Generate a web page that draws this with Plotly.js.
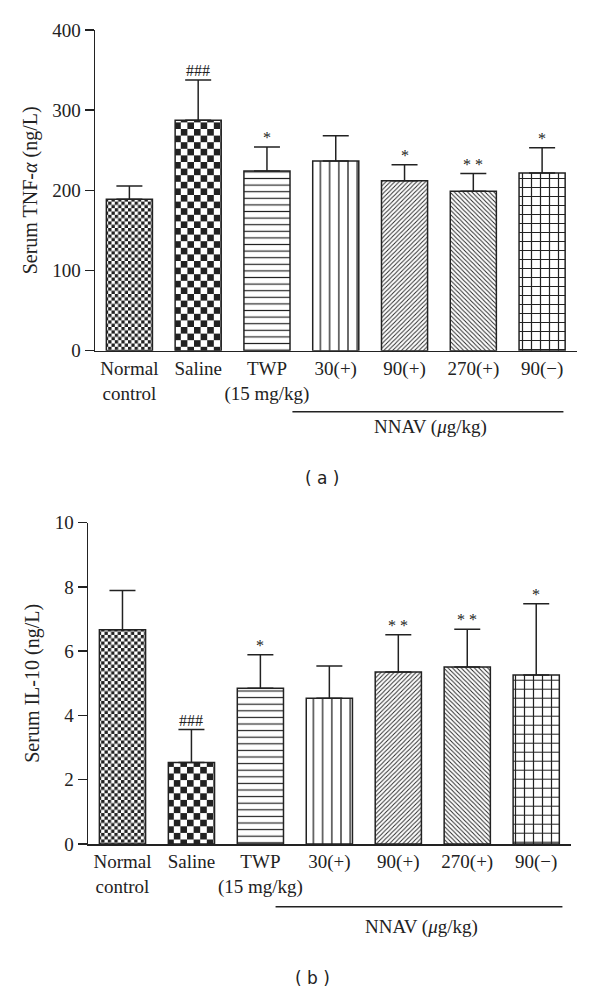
<!DOCTYPE html>
<html>
<head>
<meta charset="utf-8">
<script src="https://cdn.plot.ly/plotly-3.0.1.min.js"></script>
<style>html,body{margin:0;padding:0;background:#fff;}#chart{width:600px;height:994px;}</style>
</head>
<body>
<div id="chart"></div>
<script>
// ---- data ----
const categories = ['Normal<br>control', 'Saline', 'TWP<br>(15 mg/kg)', '30(+)', '90(+)', '270(+)', '90(−)'];
const tnfMean = [189, 287.5, 224, 236.5, 212, 199, 221.5];
const tnfSD   = [16.5, 50, 30, 31.5, 20, 22, 31.5];
const tnfSig  = ['', '###', '*', '', '*', '* *', '*'];
const il10Mean = [6.67, 2.54, 4.85, 4.54, 5.35, 5.51, 5.26];
const il10SD   = [1.22, 1.02, 1.04, 1.00, 1.16, 1.17, 2.22];
const il10Sig  = ['', '###', '*', '', '* *', '* *', '*'];
const tnfTicks = [0, 100, 200, 300, 400];
const il10Ticks = [0, 2, 4, 6, 8, 10];

// ---- styles ----
const INK = '#222';
const SERIF = 'Liberation Serif, Times New Roman, serif';
const patShapes = ['.', '.', '-', '|', '/', '\\', '+'];
const patSizes = [6.6, 13.2, 6.6, 9.2, 3.1, 3.1, 9];
const patSolid = [0.5, 0.5, 0.18, 0.14, 0.3, 0.3, 0.25];

function barTrace(y, sd, xa, ya) {
  return {
    type: 'bar', x: categories, y: y, xaxis: xa, yaxis: ya,
    marker: {
      color: 'white',
      line: {color: INK, width: 1.5},
      pattern: {shape: patShapes, size: patSizes, solidity: patSolid, fgcolor: INK, bgcolor: 'white', fillmode: 'replace'}
    },
    error_y: {type: 'data', symmetric: false, array: sd, arrayminus: sd.map(() => 0),
              color: INK, thickness: 1.5, width: 13},
    showlegend: false, hoverinfo: 'skip'
  };
}

function sigAnn(mean, sd, sig, xr, yr) {
  const out = [];
  sig.forEach((s, i) => {
    if (!s) return;
    out.push({x: categories[i], y: mean[i] + sd[i], xref: xr, yref: yr, text: s, showarrow: false,
              yanchor: 'bottom', yshift: -1, font: {family: SERIF, size: 16, color: INK}});
  });
  return out;
}

const H = 994, W = 600;
const axBase = {
  showline: true, linecolor: INK, linewidth: 1.5, showgrid: false, zeroline: false,
  tickfont: {family: SERIF, size: 19, color: INK}
};

const layout = {
  width: W, height: H, margin: {l: 0, r: 0, t: 0, b: 0},
  paper_bgcolor: 'white', plot_bgcolor: 'white',
  bargap: 0.33,
  font: {family: SERIF, color: INK},
  xaxis: Object.assign({}, axBase, {domain: [95 / W, 576.5 / W], anchor: 'y', type: 'category',
    range: [-0.5, 6.5], ticks: '', fixedrange: true}),
  yaxis: Object.assign({}, axBase, {domain: [1 - 350.7 / H, 1 - 30 / H], anchor: 'x',
    range: [0, 400], tickvals: tnfTicks, ticks: 'outside', ticklen: 9, tickwidth: 1.5, tickcolor: INK,
    title: {text: 'Serum TNF-<i>α</i> (ng/L)', font: {family: SERIF, size: 20, color: INK}, standoff: 9}}),
  xaxis2: Object.assign({}, axBase, {domain: [88 / W, 570.7 / W], anchor: 'y2', type: 'category',
    range: [-0.5, 6.5], ticks: '', fixedrange: true}),
  yaxis2: Object.assign({}, axBase, {domain: [1 - 844 / H, 1 - 522.7 / H], anchor: 'x2',
    range: [0, 10], tickvals: il10Ticks, ticks: 'outside', ticklen: 9, tickwidth: 1.5, tickcolor: INK,
    title: {text: 'Serum IL-10 (ng/L)', font: {family: SERIF, size: 20, color: INK}, standoff: 9}}),
  shapes: [
    {type: 'line', xref: 'x', yref: 'paper', x0: 2.37, x1: 6.31, y0: 1 - 411.7 / H, y1: 1 - 411.7 / H, line: {color: INK, width: 1.5}},
    {type: 'line', xref: 'x2', yref: 'paper', x0: 2.22, x1: 6.38, y0: 1 - 906.7 / H, y1: 1 - 906.7 / H, line: {color: INK, width: 1.5}}
  ],
  annotations: [].concat(
    sigAnn(tnfMean, tnfSD, tnfSig, 'x', 'y'),
    sigAnn(il10Mean, il10SD, il10Sig, 'x2', 'y2'),
    [
      {text: 'NNAV (<i>μ</i>g/kg)', xref: 'x', x: 4.38, yref: 'paper', y: 1 - 427 / H, yanchor: 'middle', showarrow: false, font: {family: SERIF, size: 19, color: INK}},
      {text: 'NNAV (<i>μ</i>g/kg)', xref: 'x2', x: 4.34, yref: 'paper', y: 1 - 926.7 / H, yanchor: 'middle', showarrow: false, font: {family: SERIF, size: 19, color: INK}},
      {text: '( a )', xref: 'paper', x: 322 / W, yref: 'paper', y: 1 - 478 / H, yanchor: 'middle', showarrow: false, font: {family: 'DejaVu Sans, sans-serif', size: 17, color: INK}},
      {text: '( b )', xref: 'paper', x: 313 / W, yref: 'paper', y: 1 - 978 / H, yanchor: 'middle', showarrow: false, font: {family: 'DejaVu Sans, sans-serif', size: 17, color: INK}}
    ])
};

const data = [barTrace(tnfMean, tnfSD, 'x', 'y'), barTrace(il10Mean, il10SD, 'x2', 'y2')];

// turn the dot patterns into checkerboards (cell = half the pattern size)
function checkerize() {
  const NS = 'http://www.w3.org/2000/svg';
  document.querySelectorAll('#chart pattern').forEach(p => {
    if (!p.querySelector('circle')) return;
    const w = parseFloat(p.getAttribute('width'));
    const c = w / 2;
    while (p.firstChild) p.removeChild(p.firstChild);
    const mk = (x, y, s, f) => {
      const r = document.createElementNS(NS, 'rect');
      r.setAttribute('x', x); r.setAttribute('y', y);
      r.setAttribute('width', s); r.setAttribute('height', s);
      r.setAttribute('fill', f); p.appendChild(r);
    };
    mk(0, 0, w, 'white');
    mk(0, 0, c, INK);
    mk(c, c, c, INK);
  });
}

Plotly.newPlot('chart', data, layout, {staticPlot: true, displayModeBar: false}).then(checkerize);
</script>
</body>
</html>
